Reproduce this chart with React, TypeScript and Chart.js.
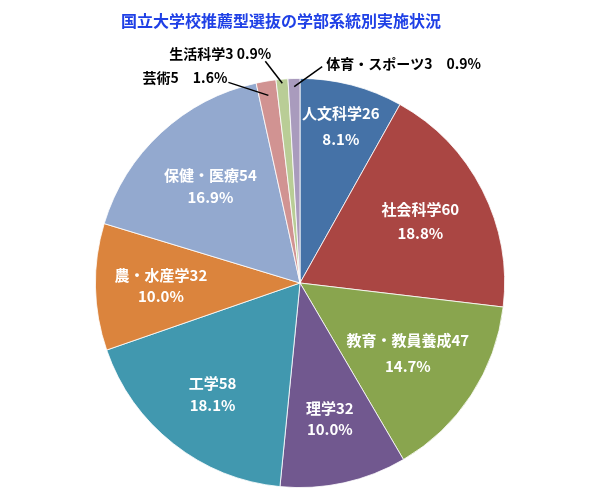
import React, { useEffect, useRef } from "react";
import { Chart, registerables } from "chart.js";

Chart.register(...registerables);

const titleText = "国立大学校推薦型選抜の学部系統別実施状況";
const categories = [
  "人文科学",
  "社会科学",
  "教育・教員養成",
  "理学",
  "工学",
  "農・水産学",
  "保健・医療",
  "芸術",
  "生活科学",
  "体育・スポーツ",
];
const counts = [26, 60, 47, 32, 58, 32, 54, 5, 3, 3];
const colors = [
  "#4572A7",
  "#AA4643",
  "#89A54E",
  "#71588F",
  "#4198AF",
  "#DB843D",
  "#93A9CF",
  "#D19392",
  "#B9CD96",
  "#A99BBD",
];

// label styling (inside labels)
const innerRadiusFactor = [0.79, 0.66, 0.63, 0.68, 0.69, 0.68, 0.645];
const innerLineGap = [26, 24, 26, 21, 22, 21, 22];
// outside labels (small slices): index, line start factor, line end offsets, text align, text offsets, separator
const outerLabels = [
  { i: 7, f: 0.93, dx: -40, dy: -13, align: "right", tx: -1, ty: -5, sep: "　" },
  { i: 8, f: 0.98, dx: -17, dy: -22, align: "right", tx: 6, ty: -8, sep: " " },
  { i: 9, f: 0.96, dx: 28, dy: -20, align: "left", tx: 4, ty: -3, sep: "　" },
];

const FONT = '"Noto Sans CJK JP", "Noto Sans", sans-serif';

const labelPlugin = {
  id: "pieLabels",
  afterDatasetsDraw(chart: any) {
    const ctx = chart.ctx;
    const meta = chart.getDatasetMeta(0);
    const total = counts.reduce((a, b) => a + b, 0);
    const pct = (v: number) => ((v / total) * 100).toFixed(1) + "%";
    ctx.save();
    // title
    ctx.fillStyle = "#1f40e6";
    ctx.font = `bold 16px ${FONT}`;
    ctx.textAlign = "center";
    ctx.textBaseline = "middle";
    ctx.fillText(titleText, 281, 21);

    // inner labels
    ctx.fillStyle = "#ffffff";
    ctx.font = `bold 15px ${FONT}`;
    innerRadiusFactor.forEach((f, i) => {
      const arc = meta.data[i];
      const mid = (arc.startAngle + arc.endAngle) / 2;
      const r = arc.outerRadius * f;
      const x = arc.x + Math.cos(mid) * r;
      const y = arc.y + Math.sin(mid) * r;
      const g = innerLineGap[i] / 2;
      ctx.fillText(categories[i] + counts[i], x, y - g);
      ctx.fillText(pct(counts[i]), x, y + g);
    });

    // outer labels
    ctx.strokeStyle = "#000000";
    ctx.lineWidth = 1.5;
    ctx.fillStyle = "#000000";
    ctx.font = `bold 14px ${FONT}`;
    outerLabels.forEach((o) => {
      const arc = meta.data[o.i];
      const mid = (arc.startAngle + arc.endAngle) / 2;
      const r = arc.outerRadius * o.f;
      const sx = arc.x + Math.cos(mid) * r;
      const sy = arc.y + Math.sin(mid) * r;
      const ex = sx + o.dx;
      const ey = sy + o.dy;
      ctx.beginPath();
      ctx.moveTo(sx, sy);
      ctx.lineTo(ex, ey);
      ctx.stroke();
      ctx.textAlign = o.align;
      ctx.fillText(categories[o.i] + counts[o.i] + o.sep + pct(counts[o.i]), ex + o.tx, ey + o.ty);
    });
    ctx.restore();
  },
};

export default function App() {
  const ref = useRef<HTMLCanvasElement>(null);
  useEffect(() => {
    if (!ref.current) return;
    const chart = new Chart(ref.current, {
      type: "pie",
      data: {
        labels: categories,
        datasets: [
          {
            data: counts,
            backgroundColor: colors,
            borderColor: "#ffffff",
            borderWidth: 0.8,
          },
        ],
      },
      options: {
        animation: false,
        responsive: false,
        layout: { padding: { top: 78, bottom: 12, left: 95, right: 95 } },
        plugins: {
          legend: { display: false },
          title: { display: false },
          tooltip: { enabled: false },
        },
      },
      plugins: [labelPlugin],
    });
    return () => chart.destroy();
  }, []);
  return (
    <div style={{ position: "fixed", left: 0, top: 0, width: 600, height: 500, background: "#fff" }}>
      <canvas ref={ref} width={600} height={500} />
    </div>
  );
}
